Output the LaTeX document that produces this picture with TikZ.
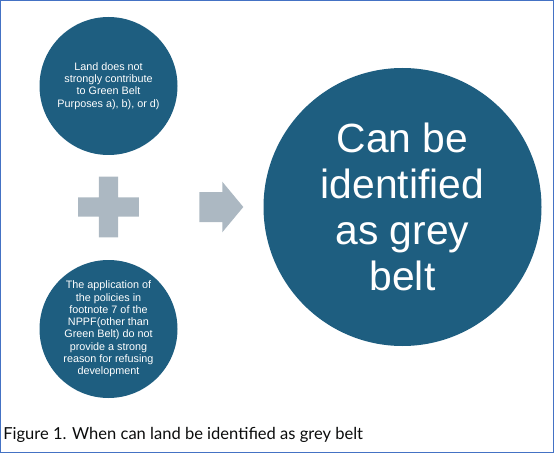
\documentclass[tikz,border=0pt]{standalone}
\usepackage{fontspec}
\setmainfont{Liberation Sans}
\newfontfamily\capfont{Lato}
\usetikzlibrary{positioning}
\definecolor{beltblue}{RGB}{30,94,128}
\definecolor{shapegrey}{RGB}{172,184,194}
\definecolor{frameblue}{RGB}{68,114,196}
\definecolor{captext}{RGB}{11,12,12}

\tikzset{
  smallcirc/.style={circle, fill=beltblue, text=white, minimum size=103.5pt,
    inner sep=0pt, align=center, font=\fontsize{8.1}{9.2}\selectfont},
  bigcirc/.style={circle, fill=beltblue, text=white, minimum size=208.5pt,
    inner sep=0pt, align=center, font=\fontsize{30.6}{34.7}\selectfont},
  greyshape/.style={fill=shapegrey, draw=none}
}

\begin{document}
\begin{tikzpicture}[x=0.75pt, y=-0.75pt]
\useasboundingbox (0,0) rectangle (554,453);
\draw [frameblue, line width=1.1pt] (0.75,0.75) rectangle (553.25,452.25);

\node [smallcirc] (land) at (108.5,86) {Land does not\\strongly contribute\\to Green Belt\\Purposes a), b), or d)};
\node [smallcirc] (policy) at (108.5,329) {The application of\\the policies in\\footnote 7 of the\\NPPF(other than\\Green Belt) do not\\provide a strong\\reason for refusing\\development};
\node [bigcirc] (grey) at (402.5,207) {Can be\\identified\\as grey\\belt};

\coordinate (plus) at (108.5,207);
\coordinate (tip) at (243.3,207);

\begin{scope}[greyshape]
\fill (plus) ++(-9.7,-30.3) -- ++(19.4,0) -- ++(0,20.6) -- ++(20.6,0) -- ++(0,19.4)
  -- ++(-20.6,0) -- ++(0,20.6) -- ++(-19.4,0) -- ++(0,-20.6) -- ++(-20.6,0)
  -- ++(0,-19.4) -- ++(20.6,0) -- cycle;
\fill (tip) -- ++(-21,25.3) -- ++(0,-10.3) -- ++(-23,0) -- ++(0,-30)
  -- ++(23,0) -- ++(0,-10.3) -- cycle;
\end{scope}

\node [anchor=base west, text=captext, inner sep=0pt,
  font=\capfont\fontsize{12.4}{15}\selectfont] (caption) at (3,439)
  {Figure 1. When can land be identified as grey belt};
\end{tikzpicture}
\end{document}
